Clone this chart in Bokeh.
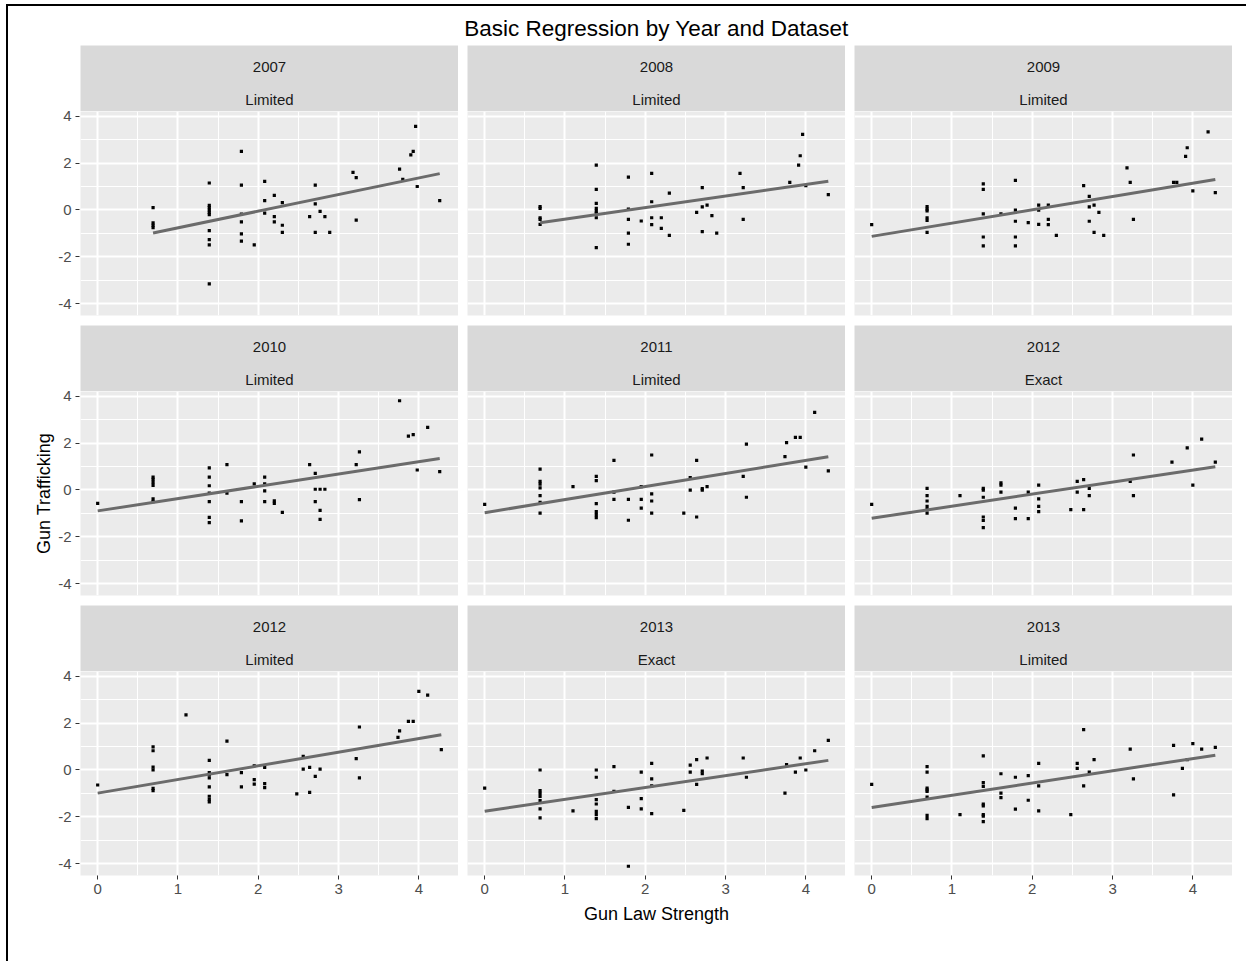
import numpy as np
from bokeh.plotting import figure
from bokeh.models import FixedTicker, Range1d, Grid, Spacer
from bokeh.layouts import row, column
from bokeh.embed import file_html
from bokeh.resources import INLINE
from bokeh.core.properties import value

chart_title = "Basic Regression by Year and Dataset"
x_axis_title = "Gun Law Strength"
y_axis_title = "Gun Trafficking"
panel_years = ["2007", "2008", "2009", "2010", "2011", "2012", "2012", "2013", "2013"]
panel_datasets = ["Limited", "Limited", "Limited", "Limited", "Limited", "Exact", "Limited", "Exact", "Limited"]
x_ticks = [0, 1, 2, 3, 4]
x_tick_labels = ["0", "1", "2", "3", "4"]
x_minor = [0.5, 1.5, 2.5, 3.5, 4.5]
y_ticks = [-4, -2, 0, 2, 4]
y_tick_labels = ["-4", "-2", "0", "2", "4"]
y_minor = [-3, -1, 1, 3]

x_2007_lim = [0.69, 0.69, 0.69, 0.69,
              1.39, 1.39, 1.39, 1.39, 1.39, 1.39, 1.39, 1.39, 1.39, 1.39,
              1.79, 1.79, 1.79, 1.79, 1.79, 1.79, 1.95, 2.08, 2.08, 2.08,
              2.2, 2.2, 2.2, 2.3, 2.3, 2.3, 2.64, 2.71, 2.71, 2.71, 2.77, 2.83, 2.89,
              3.18, 3.22, 3.22, 3.76, 3.8, 3.9, 3.93, 3.96, 3.98, 4.26]
y_2007_lim = [0.1, -0.55, -0.65, -0.75,
              1.15, 0.2, 0.1, 0.0, -0.1, -0.2, -0.88, -1.26, -1.49, -3.15,
              2.5, 1.06, -0.18, -0.51, -1.02, -1.33, -1.49, 1.22, 0.4, -0.13,
              0.62, -0.28, -0.51, 0.31, -0.65, -0.95, -0.28, 1.06, 0.26, -0.95, -0.06, -0.28, -0.95,
              1.6, 1.38, -0.43, 1.74, 1.3, 2.35, 2.5, 3.56, 1.0, 0.4]

x_2008_lim = [0.69, 0.69, 0.69, 0.69, 0.69,
              1.39, 1.39, 1.39, 1.39, 1.39, 1.39, 1.39, 1.39,
              1.79, 1.79, 1.79, 1.79, 1.79, 1.95, 2.08, 2.08, 2.08, 2.08,
              2.2, 2.2, 2.3, 2.3, 2.64, 2.71, 2.71, 2.71, 2.77, 2.83, 2.89,
              3.18, 3.22, 3.22, 3.8, 3.91, 3.93, 3.96, 4.0, 4.28]
y_2008_lim = [0.14, 0.07, -0.33, -0.4, -0.61,
              1.91, 0.88, 0.28, 0.07, -0.05, -0.14, -0.33, -1.6,
              1.4, 0.04, -0.4, -0.99, -1.46, -0.47, 1.56, 0.35, -0.33, -0.62,
              -0.33, -0.78, 0.72, -1.08, -0.1, 0.95, 0.13, -0.92, 0.21, -0.24, -0.99,
              1.56, 0.95, -0.4, 1.18, 1.91, 2.31, 3.22, 1.04, 0.65]

x_2009_lim = [0.0, 0.69, 0.69, 0.69, 0.69, 0.69, 0.69,
              1.39, 1.39, 1.39, 1.39, 1.39, 1.61,
              1.79, 1.79, 1.79, 1.79, 1.79, 1.95, 2.08, 2.08, 2.08,
              2.2, 2.2, 2.2, 2.3, 2.64, 2.71, 2.71, 2.71, 2.77, 2.77, 2.83, 2.89,
              3.18, 3.22, 3.26, 3.76, 3.8, 3.91, 3.93, 4.0, 4.19, 4.28]
y_2009_lim = [-0.62, 0.14, 0.04, -0.04, -0.33, -0.44, -0.95,
              1.11, 0.88, -0.17, -1.15, -1.53, -0.17,
              1.26, -0.01, -0.48, -1.15, -1.53, -0.54, 0.21, -0.01, -0.61,
              0.21, -0.4, -0.62, -1.08, 1.04, 0.58, 0.13, -0.48, 0.21, -0.95, -0.1, -1.08,
              1.79, 1.18, -0.4, 1.18, 1.18, 2.28, 2.65, 0.81, 3.33, 0.74]

x_2010_lim = [0.0, 0.69, 0.69, 0.69, 0.69, 0.69, 0.69,
              1.39, 1.39, 1.39, 1.39, 1.39, 1.39, 1.39, 1.61, 1.61,
              1.79, 1.79, 1.95, 2.08, 2.08, 2.08, 2.08, 2.2, 2.2, 2.3,
              2.64, 2.71, 2.71, 2.71, 2.77, 2.77, 2.77, 2.83,
              3.22, 3.26, 3.26, 3.76, 3.87, 3.93, 3.98, 4.11, 4.26]
y_2010_lim = [-0.57, 0.55, 0.45, 0.32, 0.2, -0.38, -0.5,
              0.94, 0.55, 0.18, -0.13, -0.5, -1.17, -1.39, 1.08, -0.13,
              -0.5, -1.32, 0.26, 0.55, 0.26, -0.04, -0.5, -0.46, -0.57, -0.95,
              1.08, 0.71, 0.03, -0.5, 0.03, -0.87, -1.25, 0.03,
              1.08, 1.62, -0.41, 3.8, 2.29, 2.36, 0.85, 2.67, 0.78]

x_2011_lim = [0.0, 0.69, 0.69, 0.69, 0.69, 0.69, 0.69, 0.69, 1.1,
              1.39, 1.39, 1.39, 1.39, 1.39, 1.39, 1.61, 1.61, 1.61,
              1.79, 1.79, 1.95, 1.95, 1.95, 2.08, 2.08, 2.08, 2.08,
              2.48, 2.56, 2.56, 2.64, 2.64, 2.71, 2.71, 2.77,
              3.22, 3.26, 3.26, 3.74, 3.76, 3.87, 3.93, 4.0, 4.11, 4.28]
y_2011_lim = [-0.61, 0.89, 0.37, 0.25, 0.09, -0.24, -0.53, -0.99, 0.14,
              0.58, 0.4, -0.58, -0.92, -1.05, -1.18, 1.26, -0.09, -0.4,
              -0.4, -1.29, 0.14, -0.4, -0.77, 1.49, -0.17, -0.47, -0.99,
              -0.99, 0.53, -0.01, 1.26, -1.15, 0.06, -0.01, 0.14,
              0.58, 1.95, -0.31, 1.42, 2.02, 2.24, 2.24, 0.97, 3.31, 0.81]

x_2012_exa = [0.0, 0.69, 0.69, 0.69, 0.69, 0.69, 0.69, 1.1,
              1.39, 1.39, 1.39, 1.39, 1.39, 1.39, 1.61, 1.61, 1.61,
              1.79, 1.79, 1.95, 1.95, 2.08, 2.08, 2.08, 2.08,
              2.48, 2.56, 2.56, 2.64, 2.64, 2.71, 2.71,
              3.22, 3.26, 3.26, 3.74, 3.93, 4.0, 4.11, 4.28]
y_2012_exa = [-0.61, 0.07, -0.24, -0.47, -0.7, -0.84, -0.99, -0.24,
              0.07, -0.01, -0.31, -1.15, -1.3, -1.6, 0.3, 0.21, -0.09,
              -0.77, -1.22, -0.09, -1.22, 0.21, -0.38, -0.7, -0.92,
              -0.84, 0.37, -0.09, 0.44, -0.84, 0.07, -0.24,
              0.37, 1.49, -0.24, 1.19, 1.79, 0.21, 2.17, 1.19]

x_2012_lim = [0.0, 0.69, 0.69, 0.69, 0.69, 0.69, 0.69, 1.1,
              1.39, 1.39, 1.39, 1.39, 1.39, 1.39, 1.39, 1.39, 1.61, 1.61,
              1.79, 1.79, 1.95, 1.95, 1.95, 2.08, 2.08, 2.08,
              2.48, 2.56, 2.56, 2.64, 2.64, 2.71, 2.77,
              3.22, 3.26, 3.26, 3.74, 3.76, 3.87, 3.93, 4.0, 4.11, 4.28]
y_2012_lim = [-0.64, 0.98, 0.82, 0.12, 0.0, -0.78, -0.88, 2.35,
              0.41, -0.11, -0.2, -0.34, -0.72, -1.12, -1.25, -1.36, 1.23, -0.2,
              -0.11, -0.72, 0.18, -0.41, -0.6, 0.11, -0.58, -0.75,
              -1.02, 0.58, 0.04, 0.11, -0.95, -0.27, 0.04,
              0.48, 1.83, -0.34, 1.39, 1.67, 2.07, 2.07, 3.35, 3.19, 0.87]

x_2013_exa = [0.0, 0.69, 0.69, 0.69, 0.69, 0.69, 0.69, 0.69, 1.1,
              1.39, 1.39, 1.39, 1.39, 1.39, 1.39, 1.39, 1.61, 1.61,
              1.79, 1.79, 1.95, 1.95, 1.95, 2.08, 2.08, 2.08, 2.08,
              2.48, 2.56, 2.56, 2.64, 2.64, 2.71, 2.71, 2.77,
              3.22, 3.26, 3.74, 3.76, 3.87, 3.93, 4.0, 4.11, 4.28]
y_2013_exa = [-0.77, 0.0, -0.88, -1.0, -1.13, -1.3, -1.66, -2.04, -1.74,
              0.0, -0.31, -1.26, -1.45, -1.76, -1.9, -2.07, 0.14, -0.91,
              -1.59, -4.1, -0.09, -1.22, -1.66, 0.28, -0.38, -0.68, -1.86,
              -1.72, 0.21, -0.09, 0.44, -0.61, -0.05, -0.16, 0.51,
              0.51, -0.31, -0.99, 0.23, -0.09, 0.51, 0.0, 0.82, 1.26]

x_2013_lim = [0.0, 0.69, 0.69, 0.69, 0.69, 0.69, 0.69, 0.69, 0.69, 1.1,
              1.39, 1.39, 1.39, 1.39, 1.39, 1.39, 1.39, 1.39, 1.61, 1.61, 1.61,
              1.79, 1.79, 1.95, 1.95, 2.08, 2.08, 2.08,
              2.48, 2.56, 2.56, 2.64, 2.64, 2.71, 2.77,
              3.22, 3.26, 3.76, 3.76, 3.87, 3.93, 4.0, 4.11, 4.28]
y_2013_lim = [-0.61, 0.14, -0.09, -0.77, -0.85, -0.91, -1.15, -1.93, -2.07, -1.9,
              0.6, -0.54, -0.7, -1.45, -1.53, -1.9, -1.97, -2.2, -0.16, -0.99, -1.18,
              -0.31, -1.67, -0.24, -1.29, 0.28, -0.68, -1.74,
              -1.9, 0.28, 0.07, 1.72, -0.68, -0.09, 0.44,
              0.89, -0.38, 1.05, -1.06, 0.07, 0.44, 1.12, 0.89, 0.96]

panel_x = [x_2007_lim, x_2008_lim, x_2009_lim, x_2010_lim, x_2011_lim,
           x_2012_exa, x_2012_lim, x_2013_exa, x_2013_lim]
panel_y = [y_2007_lim, y_2008_lim, y_2009_lim, y_2010_lim, y_2011_lim,
           y_2012_exa, y_2012_lim, y_2013_exa, y_2013_lim]

# ggplot-like 5% expansion of the shared scales
all_x = np.concatenate([np.asarray(v) for v in panel_x])
all_y = np.concatenate([np.asarray(v) for v in panel_y])
xpad = 0.05 * (all_x.max() - all_x.min())
ypad = 0.05 * (all_y.max() - all_y.min())
XR = (all_x.min() - xpad, all_x.max() + xpad)
YR = (all_y.min() - ypad, all_y.max() + ypad)

FONT = "Liberation Sans"
FRAME_W, FRAME_H, STRIP_H = 378, 204, 66
AXIS_W, GAP, TITLE_H, ROWGAP, BOTTOM = 70, 9, 35, 10, 60
GRID_W = AXIS_W + 3 * FRAME_W + 2 * GAP


def base_fig(**kw):
    return figure(toolbar_location=None, output_backend="svg",
                  outline_line_color=None, border_fill_color="white", **kw)


def style_grid(p, dim, ticks, minor):
    grids = [g for g in p.center if isinstance(g, Grid) and g.dimension == dim]
    if not grids:
        g = Grid(dimension=dim)
        p.add_layout(g, "center")
        grids = [g]
    for g in grids:
        g.ticker = FixedTicker(ticks=ticks, minor_ticks=minor)
        g.grid_line_color = "white"
        g.grid_line_width = 2
        g.minor_grid_line_color = "white"
        g.minor_grid_line_width = 1


def style_axis(ax):
    ax.axis_line_color = None
    ax.major_tick_line_color = "#333333"
    ax.major_tick_line_width = 1
    ax.major_tick_out = 4
    ax.major_tick_in = 0
    ax.minor_tick_line_color = None
    ax.major_label_text_font = FONT
    ax.major_label_text_font_size = "15px"
    ax.major_label_text_color = "#4D4D4D"
    ax.major_label_standoff = 4
    ax.axis_label_text_font = FONT
    ax.axis_label_text_font_size = "18px"
    ax.axis_label_text_font_style = "normal"
    ax.axis_label_text_color = "black"


def make_title():
    t = base_fig(width=GRID_W, height=TITLE_H, x_range=Range1d(0, 1), y_range=Range1d(0, 1),
                 x_axis_location=None, y_axis_location=None,
                 min_border_left=AXIS_W, min_border_right=0, min_border_top=0, min_border_bottom=0,
                 background_fill_color="white")
    t.grid.visible = False
    t.text(x=[0.5], y=[0.486], text=[chart_title], text_align="center", text_baseline="middle",
           text_font=value(FONT), text_font_size="22.5px", text_color="black")
    return t


def make_yaxis(r):
    bottom = BOTTOM if r == 2 else ROWGAP
    a = base_fig(width=AXIS_W, height=STRIP_H + FRAME_H + bottom,
                 x_range=Range1d(0, 1), y_range=Range1d(*YR),
                 x_axis_location=None, y_axis_location="left",
                 min_border_left=AXIS_W - 1, min_border_right=0,
                 min_border_top=STRIP_H, min_border_bottom=bottom,
                 background_fill_color="white")
    a.grid.visible = False
    ay = a.yaxis[0]
    ay.ticker = FixedTicker(ticks=y_ticks, minor_ticks=[])
    ay.major_label_overrides = dict(zip(y_ticks, y_tick_labels))
    style_axis(ay)
    if r == 1:
        ay.axis_label = y_axis_title
        ay.axis_label_standoff = 1
    return a


def make_strip(i):
    r, c = divmod(i, 3)
    left = 0 if c == 0 else GAP
    s = base_fig(width=left + FRAME_W, height=STRIP_H,
                 x_range=Range1d(0, 1), y_range=Range1d(0, 1),
                 x_axis_location=None, y_axis_location=None,
                 min_border_left=left, min_border_right=0,
                 min_border_top=0, min_border_bottom=0,
                 background_fill_color="#D9D9D9")
    s.grid.visible = False
    s.text(x=[0.5, 0.5], y=[0.68, 0.18], text=[panel_years[i], panel_datasets[i]],
           text_align="center", text_baseline="middle",
           text_font=value(FONT), text_font_size="15px", text_color="#1A1A1A")
    return s


def make_panel(i):
    r, c = divmod(i, 3)
    left = 0 if c == 0 else GAP
    bottom = BOTTOM if r == 2 else ROWGAP
    p = base_fig(width=left + FRAME_W, height=FRAME_H + bottom,
                 x_range=Range1d(*XR), y_range=Range1d(*YR),
                 x_axis_location="below" if r == 2 else None,
                 y_axis_location=None,
                 min_border_left=left, min_border_right=0,
                 min_border_top=0, min_border_bottom=bottom,
                 background_fill_color="#EBEBEB")
    style_grid(p, 0, x_ticks, x_minor)
    style_grid(p, 1, y_ticks, y_minor)
    if r == 2:
        ax = p.xaxis[0]
        ax.ticker = FixedTicker(ticks=x_ticks, minor_ticks=[])
        ax.major_label_overrides = dict(zip(x_ticks, x_tick_labels))
        style_axis(ax)
        if c == 1:
            ax.axis_label = x_axis_title
            ax.axis_label_standoff = 7
    xs, ys = panel_x[i], panel_y[i]
    p.scatter(xs, ys, marker="square", size=3.2, fill_color="black", line_color=None)
    slope, intercept = np.polyfit(xs, ys, 1)
    lx = [min(xs), max(xs)]
    ly = [intercept + slope * v for v in lx]
    p.line(lx, ly, line_width=3, line_color="#6B6B6B")
    return p


blocks = [make_title()]
for r in range(3):
    cols = [make_yaxis(r)]
    for c in range(3):
        i = 3 * r + c
        cols.append(column(make_strip(i), make_panel(i)))
    blocks.append(row(cols))
grid = column(blocks)

BLACK = {"background-color": "black"}
top_line = Spacer(width=1240, height=2, styles=BLACK)
left_line = Spacer(width=2, height=955, styles=BLACK)
inner = row(left_line, Spacer(width=2, height=1), column(Spacer(width=1, height=4), grid))
root = column(Spacer(width=1, height=4),
              row(Spacer(width=6, height=1), column(top_line, inner)))

open("out.html", "w").write(file_html(root, INLINE))
